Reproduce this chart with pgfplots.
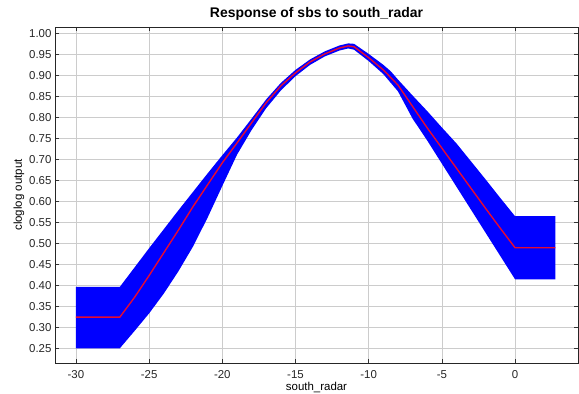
\documentclass[border=0pt]{standalone}
\usepackage{pgfplots}
\pgfplotsset{compat=1.18}
\usepackage{fontspec}
\setmainfont{Liberation Sans}
\begin{document}
\begin{tikzpicture}
\begin{axis}[
  name=ax,
  scale only axis,
  width=523bp, height=336bp,
  xmin=-31.43, xmax=4.3, ymin=0.216, ymax=1.015,
  xtick={-30,-25,-20,-15,-10,-5,0},
  ytick={0.25,0.30,0.35,0.40,0.45,0.50,0.55,0.60,0.65,0.70,0.75,0.80,0.85,0.90,0.95,1.00},
  /pgf/number format/assume math mode=true,
  yticklabel style={/pgf/number format/.cd, fixed, fixed zerofill, precision=2},
  xticklabel style={yshift=-4bp},
  tick label style={font=\fontsize{11.5}{13}\selectfont, text=black!85},
  grid=major,
  grid style={black!20, line width=0.7pt},
  tick align=inside,
  major tick length=4bp,
  tick style={black!80, line width=0.6pt},
  axis line style={black!85, line width=0.9pt},
  title={Response of sbs to south\_radar},
  title style={font=\bfseries\fontsize{14}{16}\selectfont, yshift=-3bp},
  xlabel={south\_radar},
  ylabel={cloglog output},
  label style={font=\fontsize{11.5}{13}\selectfont},
  xlabel style={yshift=3bp},
  ylabel style={yshift=-2bp},
]
% band: upper edge left to right, then lower edge right to left
\addplot[draw=none, fill={rgb,255:red,0;green,0;blue,255}] coordinates {
(-30,0.397) (-27,0.397) (-26,0.443) (-25,0.489) (-24,0.534) (-23,0.579) (-22,0.623) (-21,0.667) (-20,0.710) (-19,0.752) (-18,0.797) (-17,0.843) (-16,0.882) (-15,0.913) (-14,0.938) (-13,0.957) (-12,0.971) (-11.4,0.976) (-11,0.975) (-10,0.951) (-9,0.925) (-8.5,0.910) (-8,0.890) (-7,0.852) (-6,0.815) (-5,0.776) (-4,0.738) (-3,0.695) (-2,0.652) (-1,0.608) (0,0.565) (2.75,0.565)
(2.75,0.415) (0,0.415) (-1,0.470) (-2,0.525) (-3,0.580) (-4,0.635) (-5,0.690) (-6,0.745) (-7,0.797) (-8,0.862) (-9,0.903) (-10,0.934) (-11,0.961) (-11.4,0.964) (-12,0.959) (-13,0.945) (-14,0.925) (-15,0.898) (-16,0.864) (-17,0.822) (-18,0.770) (-19,0.711) (-20,0.637) (-21,0.562) (-22,0.493) (-23,0.434) (-24,0.381) (-25,0.334) (-26,0.292) (-27,0.251) (-30,0.251)
} --cycle;
\addplot[color={rgb,255:red,230;green,10;blue,50}, line width=1.4pt] coordinates {
(-30,0.325) (-27,0.325) (-26,0.372) (-25,0.424) (-24,0.478) (-23,0.532) (-22,0.588) (-21,0.640) (-20,0.692) (-19,0.739) (-18,0.787) (-17,0.835) (-16,0.875) (-15,0.906) (-14,0.932) (-13,0.951) (-12,0.965) (-11.4,0.970) (-11,0.968) (-10,0.942) (-9,0.913) (-8,0.877) (-7,0.826) (-6,0.775) (-5,0.727) (-4,0.679) (-3,0.631) (-2,0.583) (-1,0.536) (0,0.490) (2.75,0.490)
};
\end{axis}
\pgfresetboundingbox
\useasboundingbox ([shift={(-55bp,-31bp)}]ax.south west) rectangle ([shift={(1bp,27bp)}]ax.north east);
\end{tikzpicture}
\end{document}
